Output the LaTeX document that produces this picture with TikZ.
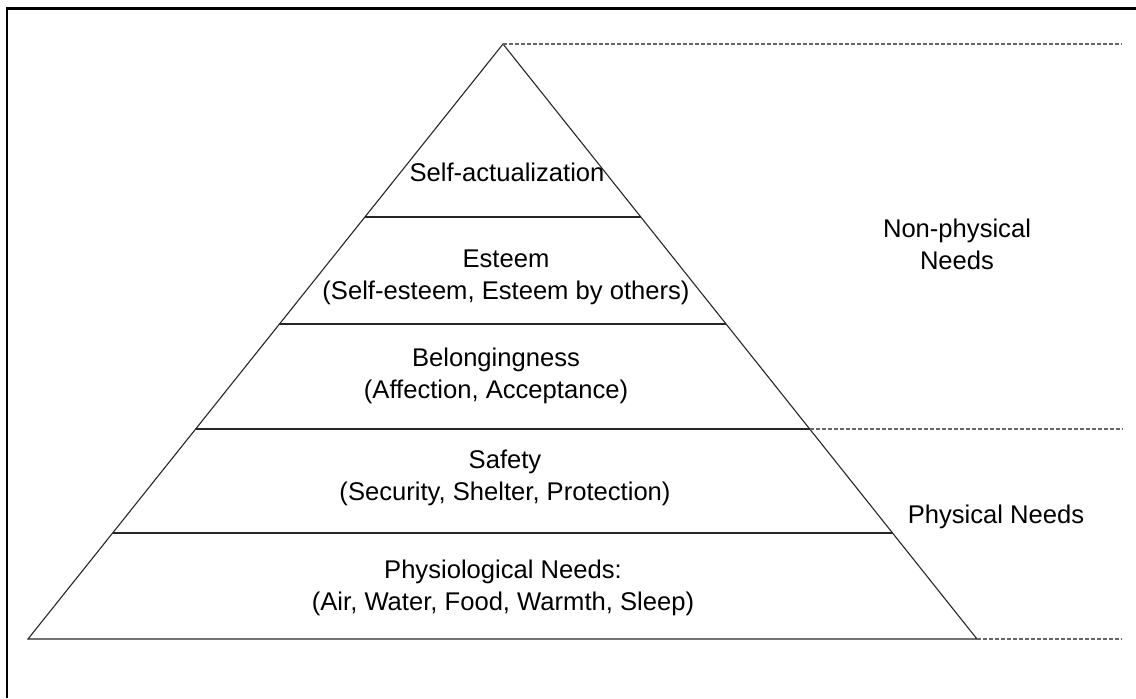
\documentclass[tikz,border=0pt]{standalone}
\usepackage{fontspec}
\setmainfont{Liberation Sans}
\usetikzlibrary{calc}

\tikzset{
  frameline/.style={line width=1.3pt},
  pyrline/.style={line width=0.55pt, black!85},
  guideline/.style={line width=0.55pt, black!60, dash pattern=on 2pt off 1pt},
  needtext/.style={align=center, inner sep=0pt, font=\fontsize{12.8}{16}\selectfont},
}

\begin{document}
\begin{tikzpicture}[x=0.5pt,y=-0.5pt]
\useasboundingbox (0,0) rectangle (1136,698);
% outer frame, only left and top edges show
\draw[frameline] (7,698) -- (7,8.5) -- (1136,8.5);
% the pyramid
\coordinate (apex) at (503,44);
\coordinate (bl) at (28,639);
\coordinate (br) at (977,639);
\coordinate (gx) at (1122,0);
\draw[pyrline] (bl) -- (apex) -- (br) -- cycle;
%     level lines
\foreach \t/\n in {0.2908/la, 0.4706/lb, 0.6471/lc, 0.8218/ld}
  \draw[pyrline] ($(apex)!\t!(bl)$) coordinate (\n w) -- ($(apex)!\t!(br)$) coordinate (\n e);
% dashed guides on the right
\draw[guideline] (apex) -- (apex -| gx);
\draw[guideline] (lce) -- (lce -| gx);
\draw[guideline] (br) -- (br -| gx);
% the levels
\node[needtext] (selfact) at (507,172) {Self-actualization};
\node[needtext] (esteem) at (506,277) {Esteem\\(Self-esteem, Esteem by others)};
\node[needtext] (belong) at (496,376) {Belongingness\\(Affection, Acceptance)};
\node[needtext] (safety) at (505,478) {Safety\\(Security, Shelter, Protection)};
\node[needtext] (physio) at (503,588) {Physiological Needs:\\(Air, Water, Food, Warmth, Sleep)};
% the two groups
\node[needtext] (nonphys) at (957,244) {Non-physical\\Needs};
\node[needtext] (phys) at (996,517) {Physical Needs};
\end{tikzpicture}
\end{document}
